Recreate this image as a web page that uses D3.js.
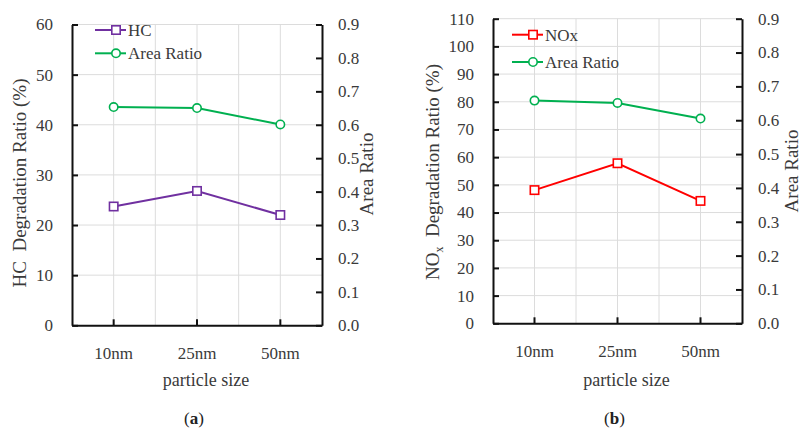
<!DOCTYPE html>
<html>
<head>
<meta charset="utf-8">
<script src="https://cdn.jsdelivr.net/npm/d3@7/dist/d3.min.js"></script>
<style>
  html, body { margin: 0; padding: 0; background: #fff; }
  svg { display: block; }
  svg text { font-family: "Liberation Serif", "Times New Roman", serif !important; }
</style>
</head>
<body>
<svg id="chart" width="802" height="429"></svg>
<script>
// ---- data ----
const categories = ["10nm", "25nm", "50nm"];
const hcValues = [23.7, 26.8, 22.0];
const areaRatioA = [0.653, 0.650, 0.601];
const noxValues = [48.1, 57.8, 44.2];
const areaRatioB = [0.658, 0.651, 0.605];
const leftTicksA = [0, 10, 20, 30, 40, 50, 60];
const leftTicksB = [0, 10, 20, 30, 40, 50, 60, 70, 80, 90, 100, 110];
const rightTicks = [0, 0.1, 0.2, 0.3, 0.4, 0.5, 0.6, 0.7, 0.8, 0.9];

const FONT = "'Liberation Serif', 'Times New Roman', serif";
const svg = d3.select("#chart");

function panel(cfg) {
  const g = svg.append("g");
  const x = d3.scaleBand().domain(categories).range([cfg.x0, cfg.x1]);
  const yL = d3.scaleLinear().domain([0, cfg.leftMax]).range([cfg.y1, cfg.y0]);
  const yR = d3.scaleLinear().domain([0, 0.9]).range([cfg.y1, cfg.y0]);
  const cx = d => x(d) + x.bandwidth() / 2;

  // grid
  const grid = g.append("g").attr("stroke", "#dcdcdc").attr("stroke-width", 1);
  cfg.leftTicks.forEach(t => {
    if (t === 0) return;
    grid.append("line").attr("x1", cfg.x0).attr("x2", cfg.x1)
      .attr("y1", yL(t)).attr("y2", yL(t));
  });
  const vx = [];
  categories.forEach((c, i) => { vx.push(cx(c)); if (i > 0) vx.push(x(c)); });
  vx.forEach(v => grid.append("line").attr("x1", v).attr("x2", v)
      .attr("y1", cfg.y0).attr("y2", cfg.y1));

  // axes
  const axL = d3.axisLeft(yL).tickValues(cfg.leftTicks).tickSizeInner(-6).tickSizeOuter(0).tickPadding(19).tickFormat(d3.format("d"));
  const axR = d3.axisRight(yR).tickValues(rightTicks).tickSizeInner(-6).tickSizeOuter(0).tickPadding(16).tickFormat(d3.format(".1f"));
  const axB = d3.axisBottom(x).tickSizeInner(-6).tickSizeOuter(0).tickPadding(22);

  function style(sel) {
    sel.attr("font-family", FONT).attr("font-size", 17);
    sel.select(".domain").attr("stroke", "#111").attr("stroke-width", 2);
    sel.selectAll(".tick line").attr("stroke", "#111").attr("stroke-width", 2);
    sel.selectAll(".tick text").attr("fill", "#3a3a3a");
  }
  g.append("g").attr("transform", `translate(${cfg.x0},0)`).call(axL).call(style);
  g.append("g").attr("transform", `translate(${cfg.x1},0)`).call(axR).call(style);
  g.append("g").attr("transform", `translate(0,${cfg.y1})`).call(axB).call(style);

  // lines
  const lineL = d3.line().x((d, i) => cx(categories[i])).y(d => yL(d));
  const lineR = d3.line().x((d, i) => cx(categories[i])).y(d => yR(d));
  g.append("path").datum(cfg.ratio).attr("d", lineR).attr("fill", "none")
    .attr("stroke", "#00B050").attr("stroke-width", 2);
  g.selectAll(null).data(cfg.ratio).enter().append("circle")
    .attr("cx", (d, i) => cx(categories[i])).attr("cy", d => yR(d)).attr("r", 4.2)
    .attr("fill", "#fff").attr("stroke", "#00B050").attr("stroke-width", 1.6);
  g.append("path").datum(cfg.values).attr("d", lineL).attr("fill", "none")
    .attr("stroke", cfg.color).attr("stroke-width", 2);
  g.selectAll(null).data(cfg.values).enter().append("rect")
    .attr("x", (d, i) => cx(categories[i]) - 4.2).attr("y", d => yL(d) - 4.2)
    .attr("width", 8.4).attr("height", 8.4)
    .attr("fill", "#fff").attr("stroke", cfg.color).attr("stroke-width", 1.6);

  // legend
  const lg = g.append("g");
  const items = [
    { label: cfg.name, color: cfg.color, shape: "rect", y: cfg.legY[0] },
    { label: "Area Ratio", color: "#00B050", shape: "circle", y: cfg.legY[1] }
  ];
  items.forEach(it => {
    lg.append("line").attr("x1", cfg.legX).attr("x2", cfg.legX + 31)
      .attr("y1", it.y).attr("y2", it.y).attr("stroke", it.color).attr("stroke-width", 2);
    const mx = cfg.legX + 21;
    if (it.shape === "rect") {
      lg.append("rect").attr("x", mx - 4.2).attr("y", it.y - 4.2).attr("width", 8.4).attr("height", 8.4)
        .attr("fill", "#fff").attr("stroke", it.color).attr("stroke-width", 1.6);
    } else {
      lg.append("circle").attr("cx", mx).attr("cy", it.y).attr("r", 4.2)
        .attr("fill", "#fff").attr("stroke", it.color).attr("stroke-width", 1.6);
    }
    lg.append("text").attr("x", cfg.legX + 33).attr("y", it.y + 6)
      .attr("font-family", FONT).attr("font-size", 17)
      .attr("fill", "#3a3a3a").text(it.label);
  });

  // axis titles
  const lt = g.append("text").attr("transform", `translate(${cfg.ltX},${cfg.ltY}) rotate(-90)`)
    .attr("text-anchor", "middle").attr("fill", "#3a3a3a")
    .attr("font-family", FONT).attr("font-size", 19);
  cfg.leftTitle(lt);
  g.append("text").attr("transform", `translate(${cfg.rtX},${cfg.rtY}) rotate(-90)`)
    .attr("text-anchor", "middle").attr("fill", "#3a3a3a")
    .attr("font-family", FONT).attr("font-size", 19)
    .text("Area Ratio");
  g.append("text").attr("x", (cfg.x0 + cfg.x1) / 2 + 9).attr("y", 386)
    .attr("text-anchor", "middle").attr("fill", "#3a3a3a")
    .attr("font-family", FONT).attr("font-size", 18)
    .text("particle size");
  const cap = g.append("text").attr("x", (cfg.x0 + cfg.x1) / 2 - 3).attr("y", 424)
    .attr("text-anchor", "middle").attr("fill", "#222")
    .attr("font-family", FONT).attr("font-size", 17);
  cap.append("tspan").text("(");
  cap.append("tspan").attr("font-weight", "bold").text(cfg.tag);
  cap.append("tspan").text(")");
}

panel({
  x0: 72, x1: 322, y0: 24.5, y1: 325.3, leftMax: 60, leftTicks: leftTicksA,
  values: hcValues, ratio: areaRatioA, color: "#7030A0", name: "HC", tag: "a",
  legX: 95, legY: [30, 53.3],
  ltX: 26, ltY: 183, rtX: 373, rtY: 174,
  leftTitle: t => { t.text("HC\u00A0\u00A0Degradation Ratio (%)"); }
});
panel({
  x0: 493, x1: 742, y0: 18.7, y1: 323.3, leftMax: 110, leftTicks: leftTicksB,
  values: noxValues, ratio: areaRatioB, color: "#FF0000", name: "NOx", tag: "b",
  legX: 512, legY: [34.7, 62],
  ltX: 439, ltY: 172, rtX: 798, rtY: 171,
  leftTitle: t => {
    t.append("tspan").text("NO");
    t.append("tspan").attr("font-size", 12).attr("dy", 4).text("x");
    t.append("tspan").attr("dy", -4).text("\u00A0\u00A0Degradation Ratio (%)");
  }
});
</script>
</body>
</html>
